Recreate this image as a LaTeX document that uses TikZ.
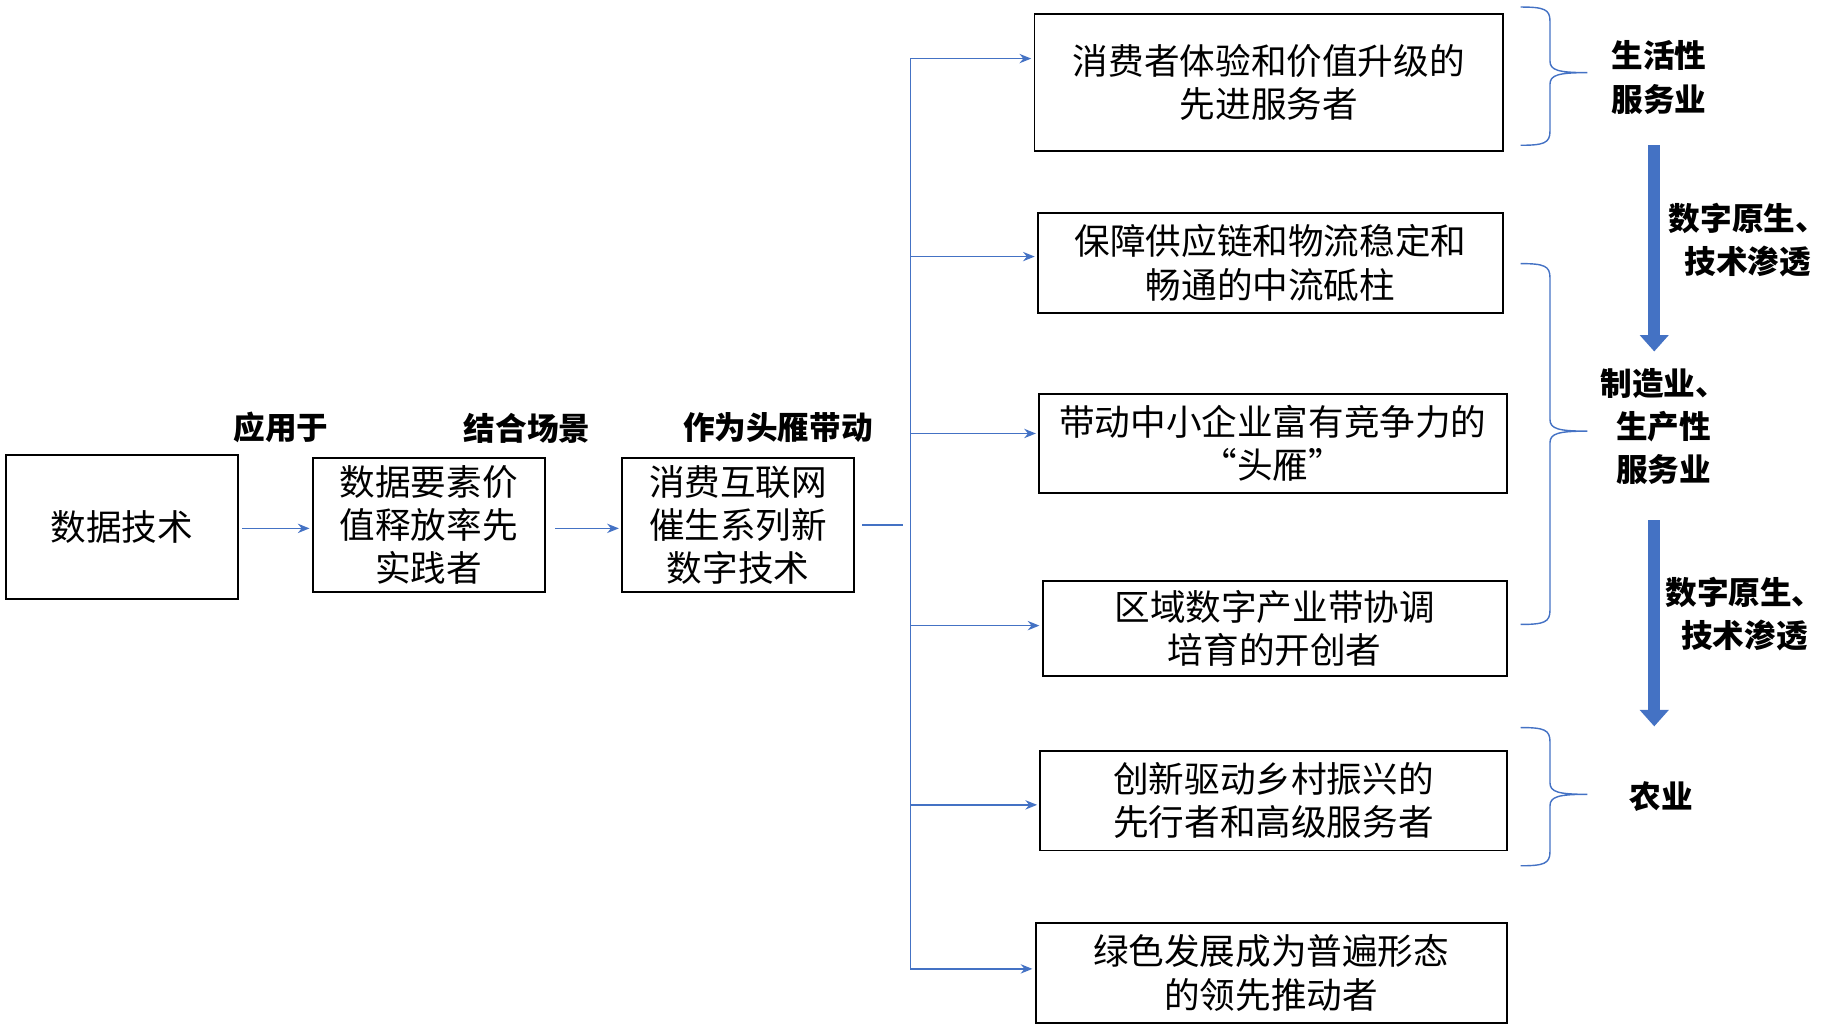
\documentclass[tikz,border=0pt]{standalone}
\usepackage{fontspec}
\setmainfont{Noto Sans CJK SC}
\usetikzlibrary{arrows.meta}
\definecolor{bl}{HTML}{4472C4}
\begin{document}
\begin{tikzpicture}[x=0.5pt,y=-0.5pt,
 box/.style={draw,line width=0.8pt,inner sep=0pt,align=center,font=\fontsize{15.2}{18.5}\selectfont},
 lab/.style={font=\fontsize{13.5}{18.5}\selectfont\bfseries,align=center},
 arr/.style={bl,line width=0.6pt,-{Stealth[length=5pt,width=4pt]}},
 brace/.style={bl,line width=0.6pt},
 fat/.style={bl,line width=5pt,-{Triangle[length=7pt,width=12pt]}}]
\useasboundingbox (0,0) rectangle (1568,878);
\node[box,minimum width=99pt,minimum height=61.5pt] (a) at (104,449.5) {数据技术};
\node[box,minimum width=99pt,minimum height=57pt] (b) at (366,448) {数据要素价\\值释放率先\\实践者};
\node[box,minimum width=99pt,minimum height=57pt] (c) at (630,448) {消费互联网\\催生系列新\\数字技术};
\node[box,minimum width=200pt,minimum height=58.5pt] (r1) at (1083,70.5) {消费者体验和价值升级的\\先进服务者};
\node[box,minimum width=198.5pt,minimum height=42.5pt] (r2) at (1084.5,224.5) {保障供应链和物流稳定和\\畅通的中流砥柱};
\node[box,minimum width=199.5pt,minimum height=42.5pt] (r3) at (1086.5,378.5) {带动中小企业富有竞争力的\\“头雁”};
\node[box,minimum width=198pt,minimum height=40.5pt] (r4) at (1088,536.5) {区域数字产业带协调\\培育的开创者};
\node[box,minimum width=199pt,minimum height=42.5pt] (r5) at (1087,683.5) {创新驱动乡村振兴的\\先行者和高级服务者};
\node[box,minimum width=201pt,minimum height=42.5pt] (r6) at (1085,830.5) {绿色发展成为普遍形态\\的领先推动者};
\node[lab] (l1) at (240,365) {应用于};
\node[lab] (l2) at (450,366) {结合场景};
\node[lab] (l3) at (664,365) {作为头雁带动};
\draw[arr] ([xshift=1.5pt]a.east|-0,451) -- ([xshift=-1pt]b.west|-0,451);
\draw[arr] (474,451) -- ([xshift=-1pt]c.west|-0,451);
\coordinate (j) at (771,448);
\draw[bl,line width=0.6pt] ([xshift=3pt]c.east|-j) -- (j);
\coordinate (t) at (777,50); \coordinate (bt) at (777,827);
\draw[bl,line width=0.6pt] (t) -- (bt);
\foreach \n/\y in {r1/50,r2/219,r3/370,r4/534,r5/687,r6/827}
  \draw[arr] (777,\y) -- ([xshift=-1pt]\n.west|-0,\y);
\foreach \t/\m/\b in {6/62/124, 225/368/533, 621/678/739}{
  \draw[brace] (1298,\t) .. controls (1318,\t) and (1323,\t+2) .. (1323,\t+12)
     -- (1323,\m-10) .. controls (1323,\m-2) and (1330,\m) .. (1355,\m)
     .. controls (1330,\m) and (1323,\m+2) .. (1323,\m+10)
     -- (1323,\b-12) .. controls (1323,\b-2) and (1318,\b) .. (1298,\b);
}
\node[lab] (s1) at (1416,66) {生活性\\服务业};
\node[lab] (s2) at (1420,364) {制造业、\\生产性\\服务业};
\node[lab] (s3) at (1418,680) {农业};
\draw[fat] (1412,124) -- (1412,300);
\draw[fat] (1412,444) -- (1412,620);
\node[lab] (d1) at (1492,205) {数字原生、\\技术渗透};
\node[lab] (d2) at (1489,524) {数字原生、\\技术渗透};
\end{tikzpicture}
\end{document}
